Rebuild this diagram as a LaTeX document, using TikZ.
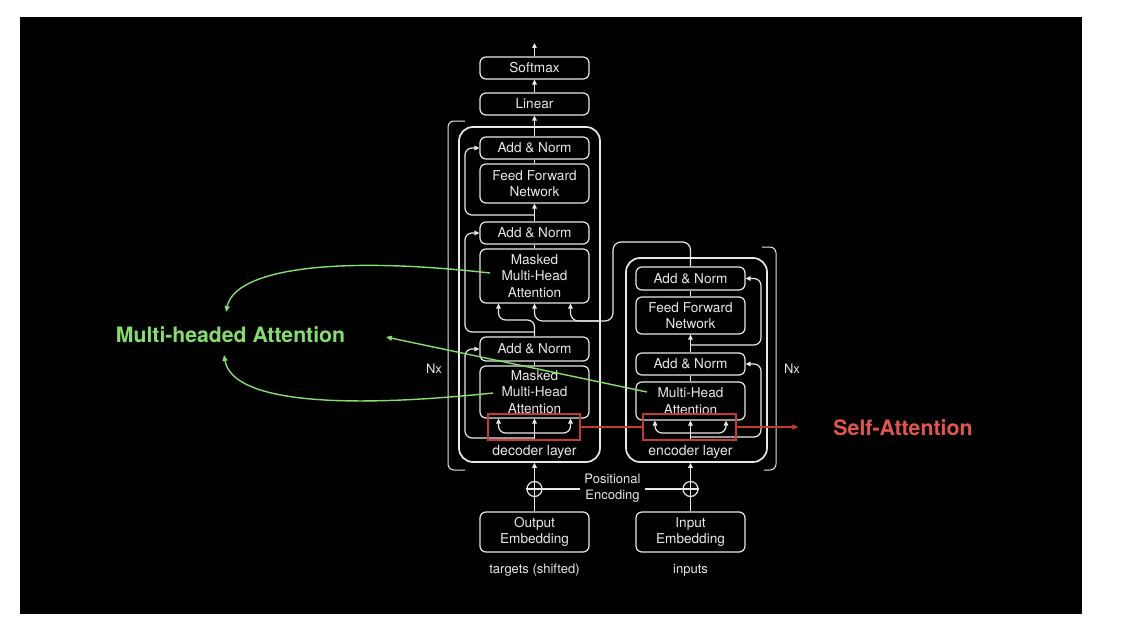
\documentclass[tikz,border=0pt]{standalone}
\usepackage{fontspec}
\setmainfont{TeX Gyre Heros}
\usetikzlibrary{arrows.meta}
\definecolor{fg}{RGB}{232,232,232}
\definecolor{mhgreen}{RGB}{132,224,108}
\definecolor{satext}{RGB}{226,86,76}
\definecolor{sabox}{RGB}{198,58,52}
\begin{document}
\begin{tikzpicture}[x=1pt,y=-1pt,
  box/.style={draw=fg, line width=1.2pt, rounded corners=6pt, minimum width=109pt, inner sep=0pt, text=fg, align=center, font=\fontsize{13.6}{16.5}\selectfont},
  wire/.style={draw=fg, line width=1.2pt},
  arr/.style={wire, -{Triangle[length=5pt,width=4.5pt]}},
  layer/.style={draw=fg, line width=1.7pt, rounded corners=14pt, inner sep=0pt},
  lbl/.style={text=fg, font=\fontsize{13}{16}\selectfont, align=center, inner sep=0pt},
  redbox/.style={draw=sabox, line width=1.3pt, inner sep=0pt, minimum height=26pt},
  redline/.style={draw=sabox, line width=1.3pt},
  garr/.style={draw=mhgreen, line width=1.4pt, -{Triangle[length=6pt,width=5pt]}},
  plus/.style={draw=fg, circle, line width=1.2pt, minimum size=15pt, inner sep=0pt}
]
\useasboundingbox (0,0) rectangle (1123,634);
\fill[white] (0,0) rectangle (1123,634);
\fill[black] (20,17) rectangle (1082,614);

% layer frames
\node[layer, minimum width=141pt, minimum height=335pt] (declayer) at (529.5,294.5) {};
\node[layer, minimum width=141pt, minimum height=204pt] (enclayer) at (696.5,360) {};
\node[lbl, font=\fontsize{14}{16}\selectfont] (declbl) at (534.5,452) {decoder layer};
\node[lbl, font=\fontsize{14}{16}\selectfont] (enclbl) at (690.5,452) {encoder layer};

% decoder boxes
\node[box, minimum height=22pt] (softmax) at (534.5,68) {Softmax};
\node[box, minimum height=22pt] (linear) at (534.5,104) {Linear};
\node[box, minimum height=22pt] (dan1) at (534.5,148) {Add \& Norm};
\node[box, minimum height=39pt] (dffn) at (534.5,183.5) {Feed Forward\\Network};
\node[box, minimum height=22pt] (dan2) at (534.5,233) {Add \& Norm};
\node[box, minimum height=54pt] (dmm1) at (534.5,276) {Masked\\Multi-Head\\Attention};
\node[box, minimum height=24pt] (dan3) at (534.5,349) {Add \& Norm};
\node[box, minimum height=52pt] (dmm2) at (534.5,392) {Masked\\Multi-Head\\Attention};

% encoder boxes
\node[box, minimum height=23pt] (ean1) at (690.5,278.5) {Add \& Norm};
\node[box, minimum height=37pt] (effn) at (690.5,315.5) {Feed Forward\\Network};
\node[box, minimum height=22pt] (ean2) at (690.5,364) {Add \& Norm};
\node[box, minimum height=38pt] (emha) at (690.5,401) {Multi-Head\\Attention};

% embeddings
\node[box, minimum height=40pt] (oemb) at (534.5,532) {Output\\Embedding};
\node[box, minimum height=40pt] (iemb) at (690.5,532) {Input\\Embedding};
\node[lbl] (tgt) at (534.5,570) {targets (shifted)};
\node[lbl] (inp) at (690.5,570) {inputs};
\node[plus] (dplus) at (534.5,489) {};
\node[plus] (eplus) at (690.5,489) {};
\draw[wire] (dplus.west) -- (dplus.east);
\draw[wire] (eplus.west) -- (eplus.east);
\node[lbl] (posenc) at (612.5,488) {Positional\\Encoding};
\draw[wire] (dplus.east) -- ([xshift=-4pt]posenc.west |- dplus.east);
\draw[wire] ([xshift=4pt]posenc.east |- eplus.west) -- (eplus.west);
\draw[wire] (oemb.north) -- (dplus.north);
\draw[arr] (dplus.north) -- (dplus.north |- declayer.south);
\draw[wire] (iemb.north) -- (eplus.north);
\draw[arr] (eplus.north) -- (eplus.north |- enclayer.south);

% decoder top stack
\coordinate (top) at (534.5,43);
\draw[arr] (softmax.north) -- (top);
\draw[arr] (linear.north) -- (softmax.south);
\draw[arr] (dan1.north) -- (linear.south);
\draw[wire] (dffn.north) -- (dan1.south);
\draw[arr] (dan2.north) -- (dffn.south);
\draw[wire] (dmm1.north) -- (dan2.south);
\draw[wire] (dmm2.north) -- (dan3.south);

% decoder residuals
\coordinate (dlx) at (465,0);
\coordinate (dr1) at (534.5,215);
\coordinate (dr2) at (534.5,332);
\coordinate (dr3) at (534.5,438);
\draw[arr, rounded corners=7pt] (dr1) -- (dr1 -| dlx) -- (dlx |- dan1.west) -- (dan1.west);
\draw[arr, rounded corners=7pt] (dr2) -- (dr2 -| dlx) -- (dlx |- dan2.west) -- (dan2.west);
\draw[arr, rounded corners=7pt] (dr3) -- (dr3 -| dlx) -- (dlx |- dan3.west) -- (dan3.west);

% decoder lower attention inputs
\coordinate (dq) at (534.5,440);
\coordinate (db) at (534.5,433);
\draw[arr] (dq) -- (dmm2.south);
\draw[arr, rounded corners=7pt] (db) -| ([xshift=-36pt]dmm2.south);
\draw[arr, rounded corners=7pt] (db) -| ([xshift=36pt]dmm2.south);

% decoder upper attention inputs
\coordinate (dqb) at (534.5,320);
\draw[arr, rounded corners=7pt] (dan3.north) -- (dqb) -| ([xshift=-36pt]dmm1.south);
\coordinate (ek1) at (690.5,242);
\coordinate (ek2) at (613,242);
\coordinate (ek3) at (613,321);
\coordinate (ek4) at (600,321);
\draw[arr, rounded corners=8pt] (ean1.north) -- (ek1) -- (ek2) -- (ek3) -| (dmm1.south);
\draw[arr, rounded corners=8pt] (ek4) -| ([xshift=36pt]dmm1.south);

% encoder internals
\coordinate (eq) at (690.5,440);
\coordinate (eb) at (690.5,433);
\draw[arr] (eq) -- (emha.south);
\draw[arr, rounded corners=7pt] (eb) -| ([xshift=-35.5pt]emha.south);
\draw[arr, rounded corners=7pt] (eb) -| ([xshift=35.5pt]emha.south);
\draw[wire] (emha.north) -- (ean2.south);
\draw[arr] (ean2.north) -- (effn.south);
\draw[wire] (effn.north) -- (ean1.south);
\coordinate (erx) at (761,0);
\coordinate (er1) at (690.5,437);
\coordinate (er2) at (690.5,345);
\draw[arr, rounded corners=7pt] (er1) -- (er1 -| erx) -- (erx |- ean2.east) -- (ean2.east);
\draw[arr, rounded corners=7pt] (er2) -- (er2 -| erx) -- (erx |- ean1.east) -- (ean1.east);

% Nx brackets
\draw[wire, line width=1pt, rounded corners=6pt] (465,121) -- (448,121) -- (448,470) -- (465,470);
\draw[wire, line width=1pt, rounded corners=6pt] (762,247) -- (776,247) -- (776,470) -- (764,470);
\node[lbl] (nxl) at (434,369) {Nx};
\node[lbl] (nxr) at (792,369) {Nx};

% self-attention highlight
\node[redbox, minimum width=92pt] (dsa) at (534,427) {};
\node[redbox, minimum width=93pt] (esa) at (689.5,427) {};
\draw[redline] (dsa.east) -- (esa.west);
\node[text=satext, font=\bfseries\fontsize{21.3}{24}\selectfont, inner sep=0pt] (satxt) at (903,428) {Self-Attention};
\draw[redline, -{Triangle[length=6pt,width=5pt]}] (esa.east) -- ([xshift=-35pt]satxt.west |- esa.east);

% multi-headed attention
\node[text=mhgreen, font=\bfseries\fontsize{21.2}{24}\selectfont, inner sep=0pt] (mha) at (230.5,335) {Multi-headed Attention};
\coordinate (g1) at (490,273);
\coordinate (g1e) at (226,312);
\coordinate (g2) at (493,393);
\coordinate (g2e) at (224,355);
\coordinate (g3) at (647,392);
\coordinate (g3e) at (386,337);
\draw[garr] (g1) .. controls (330,255) and (235,270) .. (g1e);
\draw[garr] (g2) .. controls (330,410) and (232,400) .. (g2e);
\draw[garr] (g3) -- (g3e);
\end{tikzpicture}
\end{document}
